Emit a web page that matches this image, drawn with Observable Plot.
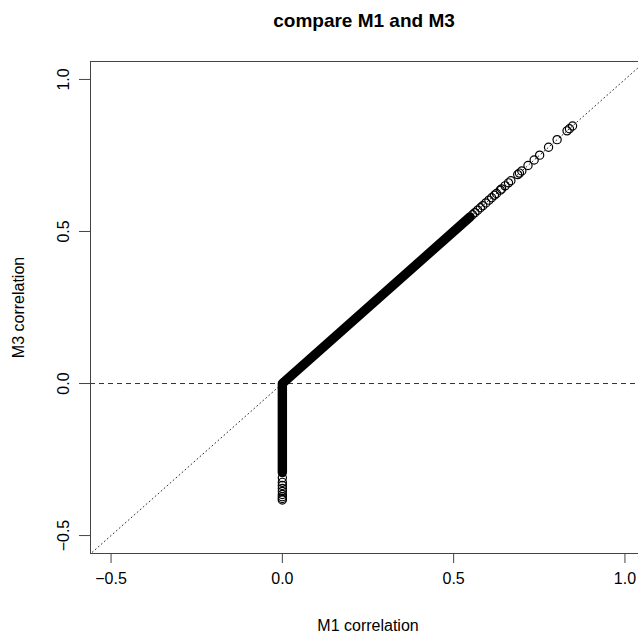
<!DOCTYPE html>
<html>
<head>
<meta charset="utf-8">
<script src="https://cdn.jsdelivr.net/npm/d3@7"></script>
<script src="https://cdn.jsdelivr.net/npm/@observablehq/plot@0.6"></script>
<style>
  html, body { margin: 0; padding: 0; overflow: hidden; background: white; }
  #chart svg { max-width: none !important; width: 645px !important; height: 634px !important; }
</style>
</head>
<body>
<div id="chart"></div>
<script>
// Correlations where M1 and M3 agree (positive values, on the diagonal)
const diagSparse = [0.847, 0.838, 0.831, 0.802, 0.777, 0.751, 0.735, 0.717, 0.699, 0.692, 0.687,
  0.667, 0.660, 0.650, 0.640, 0.636, 0.625, 0.619, 0.611, 0.603, 0.594, 0.585, 0.578, 0.570,
  0.562, 0.555];
// Correlations where M1 is 0 and M3 is negative
const negSparse = [-0.31, -0.325, -0.335, -0.345, -0.355, -0.365, -0.372, -0.378, -0.383];
// Extent of the densely overplotted band (thousands of overlapping circles)
const denseBand = [-0.293, 0, 0.548];

const xTicks = [-0.5, 0, 0.5, 1.0];
const yTicks = [-0.5, 0, 0.5, 1.0];
const xDomain = [-0.56, 1.06];
const yDomain = [-0.559, 1.059];
const identityLine = [-1, 2];

const points = [
  ...diagSparse.map(v => ({m1: v, m3: v})),
  ...negSparse.map(v => ({m1: 0, m3: v}))
];
const band = denseBand.map(v => ({m1: Math.max(v, 0), m3: v}));

const fmt = d3.format(".1f");
const font = "'Liberation Sans', Arial, Helvetica, sans-serif";

const plot = Plot.plot({
  width: 645,
  height: 634,
  marginLeft: 90,
  marginRight: 0,
  marginTop: 61,
  marginBottom: 81,
  style: {fontFamily: font, fontSize: "16px", background: "white", color: "black", overflow: "visible"},
  x: {domain: xDomain},
  y: {domain: yDomain},
  marks: [
    Plot.line(identityLine, {x: d => d, y: d => d, stroke: "#333", strokeWidth: 1, strokeDasharray: "1,3", clip: true}),
    Plot.ruleY([0], {stroke: "#333", strokeWidth: 1, strokeDasharray: "5,4"}),
    Plot.line(band, {x: "m1", y: "m3", stroke: "black", strokeWidth: 9.4, strokeLinecap: "round", strokeLinejoin: "round"}),
    Plot.dot(points, {x: "m1", y: "m3", r: 4.1, stroke: "black", strokeWidth: 1.2, fill: "none"}),
    Plot.frame({stroke: "#444", strokeWidth: 1}),
    Plot.axisX(xTicks, {tickSize: 10, tickPadding: 9, tickFormat: fmt, fontSize: 16, label: null, stroke: "#444"}),
    Plot.axisY(yTicks, {tickSize: 11, tickFormat: () => "", label: null, stroke: "#444"}),
    Plot.text(yTicks, {y: d => d, frameAnchor: "left", dx: -27, rotate: -90, text: d => fmt(d), fontSize: 16, lineAnchor: "middle", textAnchor: "middle"}),
    Plot.text(["compare M1 and M3"], {frameAnchor: "top", dy: -41, dx: -4, lineAnchor: "middle", fontWeight: "bold", fontSize: 19}),
    Plot.text(["M1 correlation"], {frameAnchor: "bottom", dy: 72, lineAnchor: "middle", fontSize: 16}),
    Plot.text(["M3 correlation"], {frameAnchor: "left", dx: -72, rotate: -90, lineAnchor: "middle", textAnchor: "middle", fontSize: 16})
  ]
});
document.getElementById("chart").appendChild(plot);
</script>
</body>
</html>
